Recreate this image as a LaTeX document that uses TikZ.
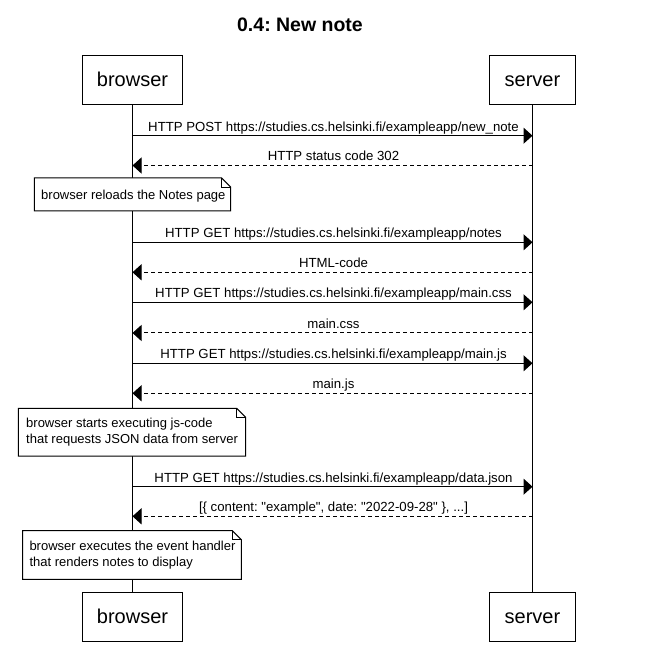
\documentclass[tikz,border=0pt]{standalone}
\usepackage{fontspec}
\setmainfont{Liberation Sans}[Ligatures=TeXOff]
\usetikzlibrary{arrows.meta}
\frenchspacing
\newcommand{\mynote}[4]{%
  \draw[noteframe] (#1,#2) -- (#3-9,#2) -- (#3,#2+9) -- (#3,#4) -- (#1,#4) -- cycle;
  \draw[line width=0.8pt] (#3-9,#2) -- (#3-9,#2+9) -- (#3,#2+9);
}
\begin{document}
\begin{tikzpicture}[x=1pt,y=-1pt,line width=1pt,
  actor/.style={draw,line width=1.1pt,minimum height=49pt,inner sep=0pt,
    text height=14pt,text depth=0pt,font=\fontsize{20}{24}\selectfont},
  msglabel/.style={anchor=base,inner sep=0pt,font=\fontsize{13.2}{15.6}\selectfont},
  notetext/.style={anchor=base west,inner sep=0pt,font=\fontsize{13}{15.6}\selectfont},
  req/.style={-{Triangle[length=9pt,width=16pt]}},
  resp/.style={req,dash pattern=on 4pt off 3pt},
  noteframe/.style={draw,fill=white,line width=1pt}]
\useasboundingbox (0,0) rectangle (657,650);
\fill[white] (0,0) rectangle (657,650);

\node[font=\fontsize{19.5}{23}\selectfont\bfseries,anchor=base,inner sep=0pt] (title) at (300,31.7) {0.4: New note};

% actors
\node[actor,minimum width=100pt] (bt) at (132.5,79.6) {browser};
\node[actor,minimum width=86.4pt] (st) at (532.5,79.6) {server};
\node[actor,minimum width=100pt] (bb) at (132.5,616.6) {browser};
\node[actor,minimum width=86.4pt] (sb) at (532.5,616.6) {server};

% lifelines
\draw (bt.south) -- (bb.north);
\draw (st.south) -- (sb.north);

% message end points
\foreach \n/\y in {1/135.7,2/165.5,3/242.3,4/272.3,5/302.3,6/333,7/363.3,8/393.3,9/486.7,10/516.3}{
  \coordinate (b\n) at (132.5,\y);
  \coordinate (s\n) at (532.5,\y);
}

\draw[req]  (b1) -- (s1);
\node[msglabel] (l1) at (333.5,131.2) {HTTP POST https://studies.cs.helsinki.fi/exampleapp/new\_note};
\draw[resp] (s2) -- (b2);
\node[msglabel] (l2) at (333.5,161) {HTTP status code 302};

\mynote{34.3}{178}{230.7}{211}
\node[notetext] (n1) at (40.7,199.3) {browser reloads the Notes page};

\draw[req]  (b3) -- (s3);
\node[msglabel] (l3) at (333.5,237.8) {HTTP GET https://studies.cs.helsinki.fi/exampleapp/notes};
\draw[resp] (s4) -- (b4);
\node[msglabel] (l4) at (333.5,267.8) {HTML-code};
\draw[req]  (b5) -- (s5);
\node[msglabel] (l5) at (333.5,297.8) {HTTP GET https://studies.cs.helsinki.fi/exampleapp/main.css};
\draw[resp] (s6) -- (b6);
\node[msglabel] (l6) at (333.5,328.5) {main.css};
\draw[req]  (b7) -- (s7);
\node[msglabel] (l7) at (333.5,358.8) {HTTP GET https://studies.cs.helsinki.fi/exampleapp/main.js};
\draw[resp] (s8) -- (b8);
\node[msglabel] (l8) at (333.5,388.8) {main.js};

\mynote{18.3}{408.3}{245.7}{456}
\node[notetext] (n2a) at (25.7,427.7) {browser starts executing js-code};
\node[notetext] (n2b) at (25.7,443.3) {that requests JSON data from server};

\draw[req]  (b9) -- (s9);
\node[msglabel] (l9) at (333.5,482.2) {HTTP GET https://studies.cs.helsinki.fi/exampleapp/data.json};
\draw[resp] (s10) -- (b10);
\node[msglabel] (l10) at (333.5,511.8) {[\{ content: "example", date: "2022-09-28" \}, ...]};

\mynote{22.7}{530.7}{241.3}{579.3}
\node[notetext] (n3a) at (29,550) {browser executes the event handler};
\node[notetext] (n3b) at (29,566.7) {that renders notes to display};
\end{tikzpicture}
\end{document}
